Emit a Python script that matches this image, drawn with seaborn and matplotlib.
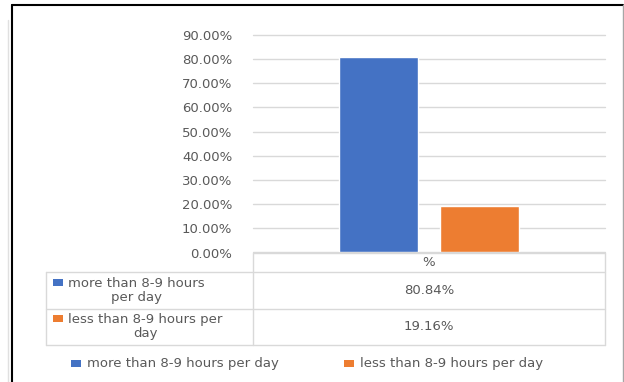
import matplotlib
matplotlib.use("Agg")
import matplotlib.pyplot as plt
from matplotlib.patches import Rectangle
from matplotlib.lines import Line2D
import seaborn as sns
import pandas as pd

# Chart data
categories = ["%"]
series = ["more than 8-9 hours per day", "less than 8-9 hours per day"]
row_labels = ["more than 8-9 hours\nper day", "less than 8-9 hours per\nday"]
values = [80.84, 19.16]
colors = ["#4472C4", "#ED7D31"]
yticks = [0, 10, 20, 30, 40, 50, 60, 70, 80, 90]

W, H = 624, 382
TEXT = "#595959"
GRID = "#d9d9d9"
FS = 9.5

sns.set_theme(style="white")
plt.rcParams["font.family"] = ["DejaVu Sans"]

fig = plt.figure(figsize=(W / 100, H / 100), dpi=100)


def fx(px):
    return px / W


def fy(py):
    return 1 - py / H


# Plot area
ax = fig.add_axes([fx(253), fy(252.5), (605 - 253) / W, (252.5 - 35) / H])
df = pd.DataFrame({"cat": categories * len(series), "series": series, "value": values})
sns.barplot(data=df, x="cat", y="value", hue="series", hue_order=series,
            palette=colors, saturation=1, width=0.574, gap=0.226,
            legend=False, ax=ax)

ax.set_xlim(-0.5, 0.5)
ax.set_ylim(0, 90)
ax.set_yticks(yticks)
ax.set_yticklabels([f"{v:.2f}%" for v in yticks])
ax.set_xticks([])
ax.set_xlabel("")
ax.set_ylabel("")
ax.tick_params(axis="y", length=0, pad=15, labelsize=FS, labelcolor=TEXT)
ax.yaxis.grid(True, color=GRID, lw=1)
ax.set_axisbelow(True)
for gl in ax.get_ygridlines():
    gl.set_clip_on(False)
for s in ax.spines.values():
    s.set_visible(False)


def hline(x0, x1, y, color=GRID, lw=1.0):
    fig.add_artist(Line2D([fx(x0), fx(x1)], [fy(y), fy(y)],
                          transform=fig.transFigure, color=color, lw=lw))


def vline(x, y0, y1, color=GRID, lw=1.0):
    fig.add_artist(Line2D([fx(x), fx(x)], [fy(y0), fy(y1)],
                          transform=fig.transFigure, color=color, lw=lw))


def swatch(x, y, color):
    fig.add_artist(Rectangle((fx(x), fy(y + 7)), 10 / W, 7 / H,
                             transform=fig.transFigure, color=color, lw=0))


# Data table under the plot
hline(253, 605, 253)
hline(46, 605, 272.3)
hline(46, 605, 308.7)
hline(46, 605, 345)
vline(253, 253, 345)
vline(605, 253, 345)
vline(46, 272.3, 345)

fig.text(fx(429), fy(263), categories[0], ha="center", va="center",
         fontsize=FS, color=TEXT)

row_tops = [272.3, 308.7]
for i, (lab, val, col) in enumerate(zip(row_labels, values, colors)):
    top = row_tops[i]
    swatch(53, top + 6.5, col)
    fig.text(fx(68), fy(top + 18), lab, ha="left", va="center",
             multialignment="center", fontsize=FS, color=TEXT,
             linespacing=1.15)
    fig.text(fx(429), fy(top + 18.2), f"{val:.2f}%", ha="center",
             va="center", fontsize=FS, color=TEXT)

# Legend below the table
legend_x = [71, 344]
for x, name, col in zip(legend_x, series, colors):
    swatch(x, 359.5, col)
    fig.text(fx(x + 16), fy(363), name, ha="left", va="center",
             fontsize=FS, color=TEXT)

# Outer frame
hline(12, 623, 5, color="black", lw=1.5)
vline(12, 5, H, color="black", lw=1.5)
vline(622.5, 5, H, color="#a6a6a6", lw=1.0)
vline(8, 20, H, color="#e0e0e0", lw=1.0)

fig.savefig("out.png", dpi=100, facecolor="white")
